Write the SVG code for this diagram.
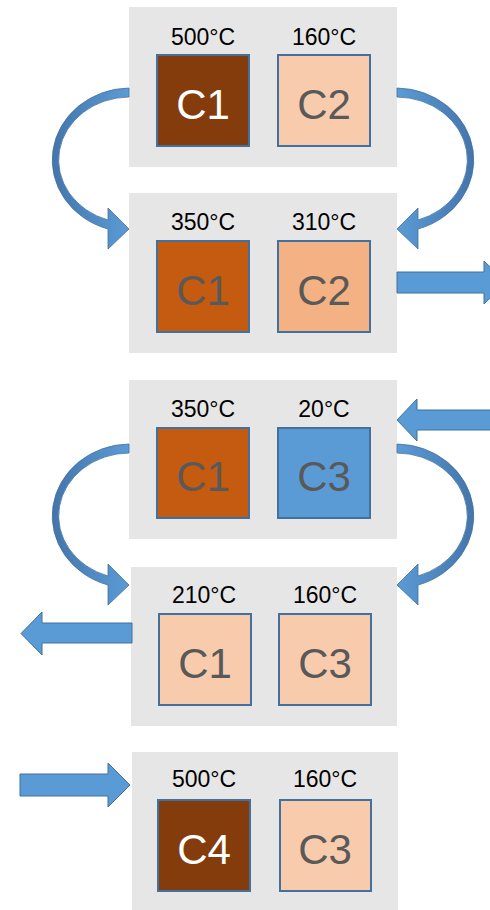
<svg xmlns="http://www.w3.org/2000/svg" width="490" height="910" viewBox="0 0 490 910">
  <defs>
    <style>
      .panel { fill: #E7E6E6; }
      .cell { stroke: #41719C; stroke-width: 2; }
      .temp { font-family: "Liberation Sans", Arial, sans-serif; font-size: 23px; fill: #000; text-anchor: middle; }
      .name { font-family: "Liberation Sans", Arial, sans-serif; font-size: 42px; fill: #595959; text-anchor: middle; }
      .name.light { fill: #FFFFFF; }
      .bent { fill: url(#bentFill); stroke: #41719C; stroke-width: 0.8; }
      .block { fill: #5B9BD5; stroke: #41719C; stroke-width: 1; }
    </style>
    <linearGradient id="bentFill" x1="0" y1="0" x2="1" y2="0">
      <stop offset="0" stop-color="#4475AC"/>
      <stop offset="1" stop-color="#5B9BD5"/>
    </linearGradient>
    <!-- curved arrow: leaves at (129,88), bends left, points right at (129,229) -->
    <path id="bend" class="bent" d="M129,88 A78,72 0 0 0 108,229 L108,249 L129,229 L108,208 L108,220 A71,63 0 0 1 129,97 Z"/>
  </defs>

  <!-- stage 1 -->
  <g id="stage1">
    <rect class="panel" x="129" y="7" width="268" height="160"/>
    <text class="temp" x="203" y="45">500°C</text>
    <text class="temp" x="324" y="45">160°C</text>
    <rect class="cell" x="157" y="55" width="92" height="91" fill="#843C0C"/>
    <text class="name light" x="203" y="119">C1</text>
    <rect class="cell" x="278" y="55" width="92" height="91" fill="#F8CBAD"/>
    <text class="name" x="324" y="119">C2</text>
  </g>

  <!-- stage 2 -->
  <g id="stage2">
    <rect class="panel" x="129" y="193" width="268" height="160"/>
    <text class="temp" x="203" y="230">350°C</text>
    <text class="temp" x="324" y="230">310°C</text>
    <rect class="cell" x="157" y="241" width="92" height="91" fill="#C55A11"/>
    <text class="name" x="203" y="305">C1</text>
    <rect class="cell" x="278" y="241" width="92" height="91" fill="#F4B183"/>
    <text class="name" x="324" y="305">C2</text>
  </g>

  <!-- stage 3 -->
  <g id="stage3">
    <rect class="panel" x="129" y="380" width="268" height="159"/>
    <text class="temp" x="203" y="417">350°C</text>
    <text class="temp" x="324" y="417">20°C</text>
    <rect class="cell" x="157" y="428" width="92" height="90" fill="#C55A11"/>
    <text class="name" x="203" y="491">C1</text>
    <rect class="cell" x="278" y="428" width="92" height="90" fill="#5B9BD5"/>
    <text class="name" x="324" y="491">C3</text>
  </g>

  <!-- stage 4 -->
  <g id="stage4">
    <rect class="panel" x="131" y="567" width="266" height="159"/>
    <text class="temp" x="204" y="603">210°C</text>
    <text class="temp" x="325" y="603">160°C</text>
    <rect class="cell" x="159" y="614" width="92" height="91" fill="#F8CBAD"/>
    <text class="name" x="205" y="678">C1</text>
    <rect class="cell" x="279" y="614" width="92" height="91" fill="#F8CBAD"/>
    <text class="name" x="325" y="678">C3</text>
  </g>

  <!-- stage 5 -->
  <g id="stage5">
    <rect class="panel" x="132" y="752" width="266" height="158"/>
    <text class="temp" x="204" y="787">500°C</text>
    <text class="temp" x="325" y="787">160°C</text>
    <rect class="cell" x="158" y="800" width="92" height="91" fill="#843C0C"/>
    <text class="name light" x="204" y="864">C4</text>
    <rect class="cell" x="280" y="800" width="91" height="91" fill="#F8CBAD"/>
    <text class="name" x="325" y="864">C3</text>
  </g>

  <!-- flows between and out of the stages -->
  <g id="connectors">
    <use href="#bend"/>
    <use href="#bend" transform="translate(526,0) scale(-1,1)"/>
    <use href="#bend" transform="translate(0,356)"/>
    <use href="#bend" transform="translate(526,356) scale(-1,1)"/>
    <polygon class="block" points="397,272 484,272 484,261 506,282.5 484,304 484,293 397,293"/>
    <polygon class="block" points="397,420 417,399 417,410 492,410 492,430 417,430 417,441"/>
    <polygon class="block" points="132,623 42,623 42,612 21,633.5 42,655 42,643 132,643"/>
    <polygon class="block" points="20,774 108,774 108,763 130,785 108,807 108,796 20,796"/>
  </g>
</svg>
